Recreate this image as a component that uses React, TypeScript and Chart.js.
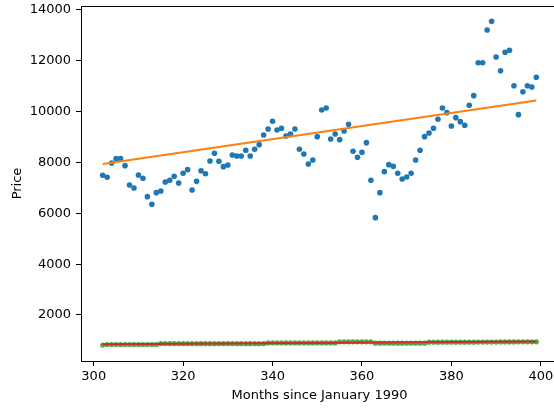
import React, { useEffect, useRef } from "react";
import { Chart, registerables } from "chart.js";

Chart.register(...registerables);

// Months since January 1990 (302 .. 399)
const months: number[] = [];
for (let m = 302; m <= 399; m++) months.push(m);

const prices: number[] = [
  7497, 7418, 7981, 8151, 8151, 7876, 7115, 6997, 7509, 7378,
  6656, 6355, 6813, 6879, 7233, 7300, 7458, 7194, 7576, 7718,
  6919, 7259, 7678, 7560, 8059, 8361, 8046, 7836, 7902, 8295,
  8256, 8256, 8479, 8256, 8519, 8702, 9083, 9319, 9620, 9279,
  9345, 9043, 9122, 9319, 8519, 8335, 7942, 8099, 9016, 10066,
  10145, 8925, 9122, 8898, 9240, 9503, 8440, 8204, 8401, 8781,
  7300, 5829, 6813, 7639, 7915, 7849, 7576, 7352, 7430, 7576,
  8099, 8479, 9016, 9161, 9345, 9699, 10145, 9961, 9437, 9764,
  9607, 9463, 10250, 10630, 11927, 11927, 13213, 13554, 12151, 11612,
  12336, 12414, 11022, 9882, 10786, 11022, 10971, 11352,
];

const secondSeries: number[] = [
  815, 840, 840, 840, 840, 840, 840, 840, 840, 840,
  840, 840, 840, 870, 870, 870, 870, 870, 870, 870,
  870, 870, 870, 870, 870, 870, 870, 870, 870, 870,
  870, 870, 870, 870, 870, 870, 870, 900, 900, 900,
  900, 900, 900, 900, 900, 900, 900, 900, 900, 900,
  900, 900, 900, 945, 945, 945, 945, 945, 945, 945,
  945, 890, 890, 890, 890, 890, 890, 890, 890, 890,
  890, 890, 890, 930, 930, 930, 930, 930, 930, 930,
  930, 930, 930, 930, 935, 935, 935, 935, 935, 940,
  940, 940, 940, 945, 945, 945, 945, 945,
];

const trendX: number[] = [302, 399];
const priceTrend: number[] = [7940, 10440];
const secondTrend: number[] = [845, 955];

const xTicks: number[] = [300, 320, 340, 360, 380, 400];
const yTicks: number[] = [2000, 4000, 6000, 8000, 10000, 12000, 14000];

const FONT = "'DejaVu Sans', sans-serif";

const framePlugin = {
  id: "frame",
  afterDraw(chart: any) {
    const { ctx, chartArea } = chart;
    ctx.save();
    ctx.strokeStyle = "#000";
    ctx.lineWidth = 1;
    ctx.strokeRect(
      Math.round(chartArea.left) + 0.5,
      Math.round(chartArea.top) + 0.5,
      Math.round(chartArea.right - chartArea.left),
      Math.round(chartArea.bottom - chartArea.top)
    );
    ctx.restore();
  },
};

export default function App() {
  const ref = useRef<HTMLCanvasElement | null>(null);

  useEffect(() => {
    if (!ref.current) return;
    const pts = (xs: number[], ys: number[]) => xs.map((x, i) => ({ x, y: ys[i] }));
    const chart = new Chart(ref.current, {
      type: "scatter",
      data: {
        datasets: [
          {
            label: "Price",
            data: pts(months, prices),
            backgroundColor: "#1f77b4",
            borderColor: "#1f77b4",
            pointRadius: 2.8,
            pointBorderWidth: 0,
            showLine: false,
            order: 4,
          },
          {
            label: "Price trend",
            data: pts(trendX, priceTrend),
            borderColor: "#ff7f0e",
            backgroundColor: "#ff7f0e",
            borderWidth: 2,
            pointRadius: 0,
            showLine: true,
            order: 3,
          },
          {
            label: "Second",
            data: pts(months, secondSeries),
            backgroundColor: "rgba(44,160,44,0.85)",
            borderColor: "rgba(44,160,44,0.85)",
            pointRadius: 2.6,
            pointBorderWidth: 0,
            showLine: false,
            order: 2,
          },
          {
            label: "Second trend",
            data: pts(trendX, secondTrend),
            borderColor: "#d62728",
            backgroundColor: "#d62728",
            borderWidth: 2,
            pointRadius: 0,
            showLine: true,
            order: 1,
          },
        ],
      },
      options: {
        animation: false,
        responsive: false,
        events: [],
        layout: { padding: { left: 0, top: 6, right: 42, bottom: 0 } },
        plugins: { legend: { display: false }, tooltip: { enabled: false } },
        scales: {
          x: {
            type: "linear",
            min: 297.15,
            max: 403.85,
            afterFit: (s: any) => {
              s.height = 49;
              s.paddingLeft = 0;
              s.paddingRight = 0;
            },
            afterBuildTicks: (s: any) => {
              s.ticks = xTicks.map((v) => ({ value: v }));
            },
            grid: {
              display: true,
              drawOnChartArea: false,
              drawTicks: true,
              tickLength: 5,
              tickColor: "#000",
              lineWidth: 1,
            },
            border: { display: false },
            ticks: {
              color: "#000",
              font: { family: FONT, size: 13 },
              padding: 3,
              maxRotation: 0,
              autoSkip: false,
              callback: (v: any) => String(v),
            },
            title: {
              display: true,
              text: "Months since January 1990",
              color: "#000",
              font: { family: FONT, size: 13 },
              padding: { top: 0, bottom: 7 },
            },
          },
          y: {
            type: "linear",
            min: 190,
            max: 14157,
            afterFit: (s: any) => {
              s.width = 81;
              s.paddingTop = 0;
              s.paddingBottom = 0;
            },
            afterBuildTicks: (s: any) => {
              s.ticks = yTicks.map((v) => ({ value: v }));
            },
            grid: {
              display: true,
              drawOnChartArea: false,
              drawTicks: true,
              tickLength: 5,
              tickColor: "#000",
              lineWidth: 1,
            },
            border: { display: false },
            ticks: {
              color: "#000",
              font: { family: FONT, size: 13 },
              padding: 5,
              autoSkip: false,
              callback: (v: any) => String(v),
            },
            title: {
              display: true,
              text: "Price",
              color: "#000",
              font: { family: FONT, size: 13 },
              padding: { top: 10, bottom: 0 },
            },
          },
        },
      },
      plugins: [framePlugin],
    });
    return () => chart.destroy();
  }, []);

  return (
    <div
      style={{
        position: "fixed",
        left: 0,
        top: 0,
        width: 554,
        height: 410,
        overflow: "hidden",
        background: "#fff",
      }}
    >
      <canvas ref={ref} width={600} height={410} style={{ display: "block", width: 600, height: 410 }} />
    </div>
  );
}
